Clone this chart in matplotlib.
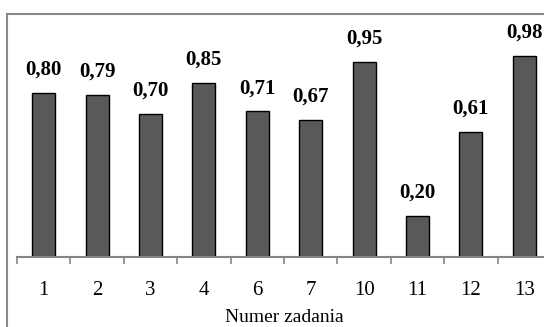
import matplotlib.pyplot as plt
from matplotlib.patches import Rectangle

# data
tasks = ['1', '2', '3', '4', '6', '7', '10', '11', '12', '13']
scores = [0.80, 0.79, 0.70, 0.85, 0.71, 0.67, 0.95, 0.20, 0.61, 0.98]

plt.rcParams['font.family'] = ['Liberation Serif', 'DejaVu Serif']

fig = plt.figure(figsize=(5.44, 3.27), dpi=100)

# chart frame (only top and left edges are inside the picture)
frame = Rectangle((7 / 544, -0.5), 2.0, 0.5 + (1 - 14 / 327), transform=fig.transFigure,
                  fill=False, edgecolor='#898989', linewidth=1.5)
fig.patches.append(frame)

ax = fig.add_axes([17 / 544, 70 / 327, 534 / 544, 246 / 327])
x = range(len(tasks))
bars = ax.bar(x, scores, width=0.43, color='#595959', edgecolor='black', linewidth=1.0)

for xi, v in zip(x, scores):
    ax.text(xi, v + 0.065, f'{v:.2f}'.replace('.', ','), ha='center', va='bottom',
            fontsize=15, fontweight='bold')

ax.set_xlim(-0.5, len(tasks) - 0.5)
ax.set_ylim(0, 1.2)
ax.set_xticks(list(x))
ax.set_xticklabels(tasks, fontsize=15)
ax.set_xticks([i - 0.5 for i in range(len(tasks) + 1)], minor=True)
ax.tick_params(axis='x', which='major', length=0, pad=17)
ax.tick_params(axis='x', which='minor', length=5, width=1.2, color='#868686', direction='out')
ax.set_yticks([])
for side in ['top', 'right', 'left']:
    ax.spines[side].set_visible(False)
ax.spines['bottom'].set_color('#868686')
ax.spines['bottom'].set_linewidth(1.5)
ax.set_xlabel('Numer zadania', fontsize=14, labelpad=7)

fig.savefig('out.png', dpi=100)
